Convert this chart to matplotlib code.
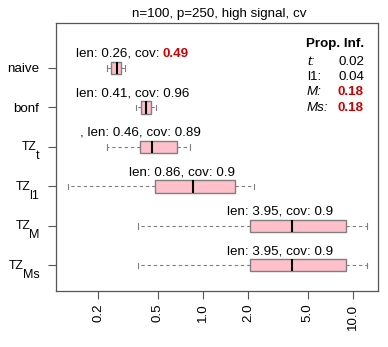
import matplotlib
matplotlib.use("Agg")
import matplotlib.pyplot as plt
from matplotlib.offsetbox import TextArea, HPacker, AnnotationBbox

plt.rcParams['font.family'] = ['Liberation Sans', 'DejaVu Sans']

# ---- data ----
categories = ["naive", "bonf", "TZ_t", "TZ_l1", "TZ_M", "TZ_Ms"]
label_main = ["naive", "bonf", "TZ", "TZ", "TZ", "TZ"]
label_sub = ["", "", "t", "l1", "M", "Ms"]
whislo = [0.227, 0.357, 0.230, 0.125, 0.370, 0.370]
q1     = [0.244, 0.387, 0.381, 0.480, 2.05, 2.05]
med    = [0.265, 0.416, 0.458, 0.861, 3.91, 3.91]
q3     = [0.282, 0.448, 0.670, 1.644, 8.98, 8.98]
whishi = [0.303, 0.483, 0.819, 2.19, 12.41, 12.41]
lens   = ["0.26", "0.41", "0.46", "0.86", "3.95", "3.95"]
covs   = ["0.49", "0.96", "0.89", "0.9", "0.9", "0.9"]
cov_flag = [True, False, False, False, False, False]
prefix = ["", "", ", ", "", "", ""]
label_x = [0.336, 0.338, 0.380, 0.721, 3.25, 3.25]
prop_names = ["t:", "l1:", "M:", "Ms:"]
prop_italic = [True, False, True, True]
prop_vals = ["0.02", "0.04", "0.18", "0.18"]
prop_flag = [False, False, True, True]
xticks = [0.2, 0.5, 1.0, 2.0, 5.0, 10.0]
xtick_labels = ["0.2", "0.5", "1.0", "2.0", "5.0", "10.0"]
title = "n=100, p=250, high signal, cv"

RED = "#CC0000"
FS = 9.6
FS_TZ = 8.8
FS_SUB = 9.0
EDGE = "#7f7f7f"
SPINE = "#555555"

fig = plt.figure(figsize=(3.88, 3.47), dpi=100)
ax = fig.add_axes([56/388, 1-291/347, 322/388, 268/347])

n = len(categories)
positions = [n - i for i in range(n)]
stats = []
for i in range(n):
    stats.append(dict(med=med[i], q1=q1[i], q3=q3[i], whislo=whislo[i],
                      whishi=whishi[i], fliers=[], label=categories[i]))

ax.bxp(stats, positions=positions, vert=False, widths=0.31, capwidths=0.14,
       patch_artist=True, showfliers=False,
       boxprops=dict(facecolor="#FFC0CB", edgecolor=EDGE, linewidth=1.0),
       whiskerprops=dict(color=EDGE, linestyle=(0, (3, 2.6)), linewidth=0.8),
       capprops=dict(color=EDGE, linewidth=0.8),
       medianprops=dict(color="black", linewidth=1.5))

ax.set_xscale("log")
ax.set_xlim(0.1042, 14.76)
ax.set_ylim(0.35, 7.14)
ax.set_xticks(xticks)
ax.set_xticklabels(xtick_labels, rotation=90, fontsize=FS)
ax.minorticks_off()
ax.set_yticks(positions)
ax.set_yticklabels([m if s == "" else "" for m, s in zip(label_main, label_sub)], fontsize=FS)
ax.tick_params(axis="both", length=6, width=0.8, color=SPINE)
ax.tick_params(axis="y", pad=6)
ax.tick_params(axis="x", pad=3)
for s in ax.spines.values():
    s.set_color(SPINE)
    s.set_linewidth(0.9)

fig.text(0.5 + 25/388, 1 - 14.5/347, title, ha="center", va="center", fontsize=FS)

# subscripted tick labels (R plotmath style)
fig.canvas.draw()
renderer = fig.canvas.get_renderer()
PT = 0.72  # points per pixel at dpi 100
for i in range(n):
    if label_sub[i] == "":
        continue
    sub = ax.annotate(label_sub[i], xy=(0, positions[i]), xycoords=("axes fraction", "data"),
                      xytext=(-16.5 * PT, -12.5 * PT), textcoords="offset points",
                      ha="right", va="baseline", fontsize=FS_SUB, annotation_clip=False)
    bb = sub.get_window_extent(renderer)
    w_px = bb.width
    ax.annotate(label_main[i], xy=(0, positions[i]), xycoords=("axes fraction", "data"),
                xytext=((-16.5 - w_px + 1.2) * PT, -3.5 * PT), textcoords="offset points",
                ha="right", va="baseline", fontsize=FS_TZ, annotation_clip=False)

# interval labels
for i in range(n):
    if cov_flag[i]:
        parts = [TextArea(f"{prefix[i]}len: {lens[i]}, cov:", textprops=dict(fontsize=FS, color="black")),
                 TextArea(covs[i], textprops=dict(fontsize=FS, color=RED, fontweight="bold"))]
        box = HPacker(children=parts, align="baseline", pad=0, sep=2.4)
    else:
        box = TextArea(f"{prefix[i]}len: {lens[i]}, cov: {covs[i]}", textprops=dict(fontsize=FS, color="black"))
    ab = AnnotationBbox(box, (label_x[i], positions[i] + 0.36), xycoords="data",
                        frameon=False, box_alignment=(0.5, 0.5), pad=0)
    ax.add_artist(ab)

# proportion legend
ax.text(0.9565, 0.9216, "Prop. Inf.", transform=ax.transAxes, ha="right", va="center",
        fontsize=FS, fontweight="bold")
row_y = [0.8563, 0.7985, 0.7425, 0.681]
for j in range(len(prop_names)):
    ax.text(0.7795, row_y[j], prop_names[j], transform=ax.transAxes, ha="left", va="center",
            fontsize=FS, fontstyle="italic" if prop_italic[j] else "normal")
    ax.text(0.9565, row_y[j], prop_vals[j], transform=ax.transAxes, ha="right", va="center",
            fontsize=FS, color=RED if prop_flag[j] else "black",
            fontweight="bold" if prop_flag[j] else "normal")

fig.savefig("out.png", dpi=100)
